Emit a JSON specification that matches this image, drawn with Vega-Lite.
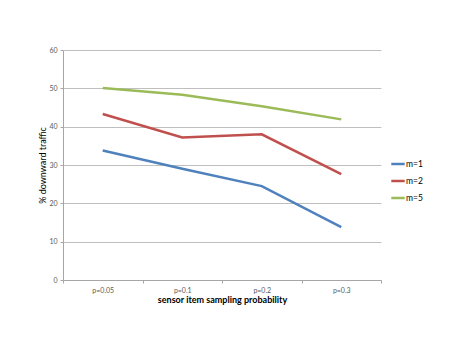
{
  "$schema": "https://vega.github.io/schema/vega-lite/v6.json",
  "width": 318,
  "height": 230,
  "autosize": {"type": "none"},
  "padding": {"left": 63, "top": 50, "right": 82, "bottom": 78},
  "background": "white",
  "config": {
    "view": {"stroke": null},
    "font": "Lato",
    "axis": {"labelFont": "Lato", "titleFont": "Lato"}
  },
  "data": {
    "values": [
      {"p": "p=0.05", "series": "m=1", "value": 33.8},
      {"p": "p=0.1", "series": "m=1", "value": 29.0},
      {"p": "p=0.2", "series": "m=1", "value": 24.5},
      {"p": "p=0.3", "series": "m=1", "value": 13.8},
      {"p": "p=0.05", "series": "m=2", "value": 43.3},
      {"p": "p=0.1", "series": "m=2", "value": 37.2},
      {"p": "p=0.2", "series": "m=2", "value": 38.0},
      {"p": "p=0.3", "series": "m=2", "value": 27.6},
      {"p": "p=0.05", "series": "m=5", "value": 50.1},
      {"p": "p=0.1", "series": "m=5", "value": 48.3},
      {"p": "p=0.2", "series": "m=5", "value": 45.3},
      {"p": "p=0.3", "series": "m=5", "value": 41.9}
    ]
  },
  "mark": {"type": "line", "strokeWidth": 2.5},
  "encoding": {
    "x": {
      "field": "p",
      "type": "ordinal",
      "sort": null,
      "bandPosition": 0.5,
      "scale": {"type": "band", "paddingInner": 0, "paddingOuter": 0},
      "axis": {
        "title": "sensor item sampling probability",
        "labelAngle": 0,
        "labelFontSize": 7,
        "labelColor": "#595959",
        "tickBand": "extent",
        "tickSize": 3,
        "tickColor": "#a6a6a6",
        "domainColor": "#a6a6a6",
        "labelPadding": 3,
        "titleFontSize": 9,
        "titleFontWeight": "bold",
        "titleColor": "#000000",
        "titlePadding": 2,
        "grid": false
      }
    },
    "y": {
      "field": "value",
      "type": "quantitative",
      "scale": {"domain": [0, 60], "nice": false},
      "axis": {
        "title": "% downward traffic",
        "values": [0, 10, 20, 30, 40, 50, 60],
        "labelFontSize": 7,
        "labelColor": "#595959",
        "tickSize": 3,
        "tickColor": "#a6a6a6",
        "domainColor": "#a6a6a6",
        "gridColor": "#bfbfbf",
        "labelPadding": 3,
        "titleFontSize": 9,
        "titleFontWeight": "normal",
        "titleColor": "#000000",
        "titlePadding": 1
      }
    },
    "color": {
      "field": "series",
      "type": "nominal",
      "scale": {"domain": ["m=1", "m=2", "m=5"], "range": ["#4f81bd", "#c0504d", "#9bbb59"]},
      "legend": {
        "title": null,
        "orient": "none",
        "legendX": 327,
        "legendY": 106,
        "labelFontSize": 8.5,
        "labelColor": "#000000",
        "symbolType": "stroke",
        "symbolSize": 180,
        "symbolStrokeWidth": 2.5,
        "rowPadding": 4,
        "labelOffset": 0
      }
    }
  }
}
